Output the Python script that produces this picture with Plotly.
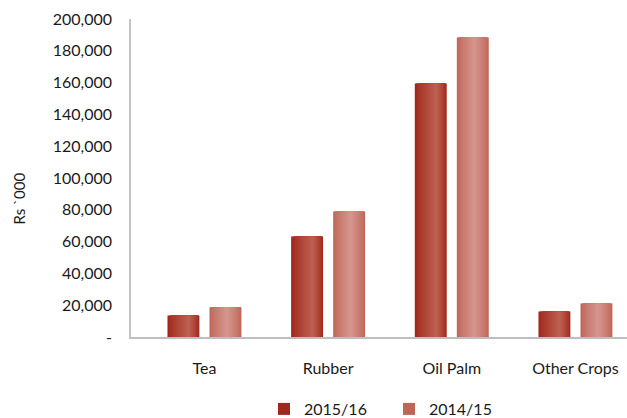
import plotly.graph_objects as go

# Crop categories and values (Rs '000)
crops = ["Tea", "Rubber", "Oil Palm", "Other Crops"]
series_names = ["2015/16", "2014/15"]
values_2015_16 = [13500, 63200, 159500, 16000]
values_2014_15 = [18700, 79000, 188400, 21000]

y_tick_vals = [0, 20000, 40000, 60000, 80000, 100000, 120000, 140000, 160000, 180000, 200000]
y_tick_text = ["-", "20,000", "40,000", "60,000", "80,000", "100,000", "120,000",
               "140,000", "160,000", "180,000", "200,000"]

FONT = "Lato"


def hex_to_rgb(h):
    h = h.lstrip("#")
    return tuple(int(h[i:i + 2], 16) for i in (0, 2, 4))


def mix(c1, c2, t):
    a, b = hex_to_rgb(c1), hex_to_rgb(c2)
    return "rgb(%d,%d,%d)" % tuple(round(a[i] + (b[i] - a[i]) * t) for i in range(3))


# Bar styling: each series is drawn as nested layers to give a cylindrical shading
series_styles = [
    dict(edge="#A0271B", light="#BC5F51", offset=-0.299, hl=0.68),
    dict(edge="#BF6558", light="#D5958C", offset=0.041, hl=0.55),
]
BAR_W = 0.258
LAYERS = 16

fig = go.Figure()
for name, vals, st in zip(series_names, [values_2015_16, values_2014_15], series_styles):
    left = st["offset"]
    right = st["offset"] + BAR_W
    hl = left + st["hl"] * BAR_W
    for k in range(LAYERS):
        t = k / (LAYERS - 1)
        l_k = left + (hl - left) * k / LAYERS
        r_k = right - (right - hl) * k / LAYERS
        fig.add_trace(go.Bar(
            x=crops, y=vals, name=name,
            offset=l_k, width=r_k - l_k,
            marker=dict(color=mix(st["edge"], st["light"], t ** 0.8), line=dict(width=0)),
            showlegend=(k == 0), legendgroup=name,
            hoverinfo="skip" if k else None,
        ))

fig.add_annotation(
    text="Rs `000", textangle=-90, showarrow=False,
    xref="paper", yref="paper", x=(19 - 131) / 496, y=(337.5 - 199) / 318,
    xanchor="center", yanchor="middle", font=dict(size=15),
)

fig.update_layout(
    width=627, height=418,
    margin=dict(l=131, r=0, t=19, b=81),
    paper_bgcolor="white", plot_bgcolor="white",
    barmode="overlay",
    font=dict(family=FONT, size=16, color="#1a1a1a"),
    showlegend=True,
    legend=dict(
        orientation="h", xref="container", yref="container",
        x=264 / 627, xanchor="left", y=1 - 409 / 418, yanchor="middle",
        font=dict(size=16), entrywidth=80, traceorder="normal",
        bgcolor="rgba(0,0,0,0)",
    ),
    xaxis=dict(
        range=[-0.594, 3.417], showgrid=False, zeroline=False,
        showline=True, linecolor="#BEBEBE", linewidth=2,
        ticks="", ticklabelstandoff=16, tickfont=dict(size=16),
    ),
    yaxis=dict(
        range=[0, 200000], showgrid=False, zeroline=False,
        showline=True, linecolor="#C4C4C4", linewidth=1.5,
        tickvals=y_tick_vals, ticktext=y_tick_text, ticks="",
        ticklabelstandoff=14, tickfont=dict(size=16),
    ),
)

fig.write_html("out.html")
